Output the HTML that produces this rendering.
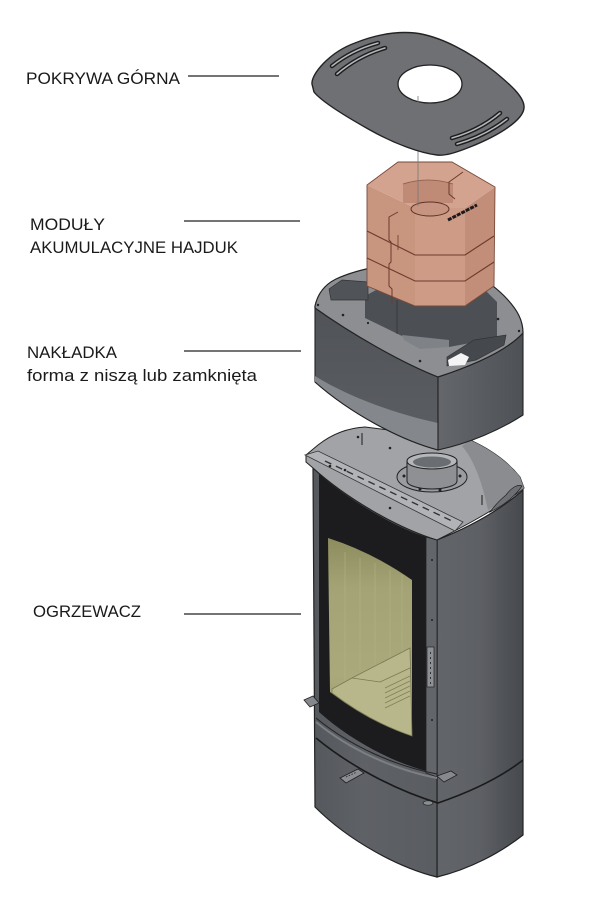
<!DOCTYPE html>
<html>
<head>
<meta charset="utf-8">
<style>
html,body{margin:0;padding:0;background:#fff;}
svg{display:block;}
text{font-family:"Liberation Sans",Arial,sans-serif;fill:#1a1a1a;}
</style>
</head>
<body>
<svg width="600" height="900" viewBox="0 0 600 900" xmlns="http://www.w3.org/2000/svg">
<defs>
  <linearGradient id="gR" x1="0" y1="0" x2="1" y2="0">
    <stop offset="0" stop-color="#62656a"/>
    <stop offset="0.5" stop-color="#5d6065"/>
    <stop offset="1" stop-color="#46494e"/>
  </linearGradient>
  <linearGradient id="gL" x1="0" y1="0" x2="1" y2="0">
    <stop offset="0" stop-color="#55585d"/>
    <stop offset="0.4" stop-color="#5e6166"/>
    <stop offset="1" stop-color="#5a5d62"/>
  </linearGradient>
  <linearGradient id="gG" x1="0" y1="0" x2="0" y2="1">
    <stop offset="0" stop-color="#8c8c5e"/>
    <stop offset="0.25" stop-color="#a3a375"/>
    <stop offset="0.7" stop-color="#a9a97b"/>
    <stop offset="1" stop-color="#9a9a6c"/>
  </linearGradient>
  <linearGradient id="gNR" x1="0" y1="0" x2="1" y2="0">
    <stop offset="0" stop-color="#64676c"/>
    <stop offset="1" stop-color="#4e5156"/>
  </linearGradient>
  <linearGradient id="gNL" x1="0" y1="0" x2="0" y2="1">
    <stop offset="0" stop-color="#505358"/>
    <stop offset="1" stop-color="#5c5f64"/>
  </linearGradient>
</defs>
<rect width="600" height="900" fill="#fff"/>

<!-- ===== LABELS ===== -->
<text x="26" y="84" font-size="17" textLength="154" lengthAdjust="spacingAndGlyphs">POKRYWA GÓRNA</text>
<line x1="188" y1="76" x2="279" y2="76" stroke="#222" stroke-width="1.3"/>

<text x="30" y="230" font-size="17" textLength="75" lengthAdjust="spacingAndGlyphs">MODUŁY</text>
<text x="30" y="253" font-size="17" textLength="208" lengthAdjust="spacingAndGlyphs">AKUMULACYJNE HAJDUK</text>
<line x1="184" y1="221" x2="300" y2="221" stroke="#222" stroke-width="1.3"/>

<text x="27" y="358" font-size="17" textLength="90" lengthAdjust="spacingAndGlyphs">NAKŁADKA</text>
<text x="27" y="381" font-size="17" textLength="230" lengthAdjust="spacingAndGlyphs">forma z niszą lub zamknięta</text>
<line x1="184" y1="351" x2="301" y2="351" stroke="#222" stroke-width="1.3"/>

<text x="33" y="617" font-size="17" textLength="108" lengthAdjust="spacingAndGlyphs">OGRZEWACZ</text>
<line x1="184" y1="614" x2="301" y2="614" stroke="#222" stroke-width="1.3"/>

<!-- ===== HEATER (OGRZEWACZ) ===== -->
<path d="M437,540 C470,527 500,510 523,490 L523,835 C500,853 470,869 437,877 Z" fill="url(#gR)" stroke="#222" stroke-width="1.2"/>
<path d="M313,468 C345,497 395,527 437,540 L437,877 C400,868 350,842 315,807 Z" fill="url(#gL)" stroke="#222" stroke-width="1.2"/>
<path d="M319,474 C350,501 395,527 426,537 L426,771 C392,762 350,740 319,712 Z" fill="#1c1c1e"/>
<path d="M426,537 L437,540 L437,777 L426,773 Z" fill="#62656a" stroke="#222" stroke-width="0.8"/>
<circle cx="432" cy="560" r="1" fill="#222"/>
<circle cx="432" cy="620" r="1" fill="#222"/>
<circle cx="432" cy="720" r="1" fill="#222"/>
<rect x="427" y="647" width="7" height="40" fill="#8d9095" stroke="#222" stroke-width="0.7"/>
<line x1="430.5" y1="652" x2="430.5" y2="684" stroke="#333" stroke-width="1" stroke-dasharray="2 3"/>
<path d="M328,538 Q372,552 412,580 L412,736 Q370,722 330,692 Z" fill="url(#gG)"/>
<g stroke="#b4b486" stroke-width="0.8" opacity="0.7">
  <line x1="345" y1="552" x2="345" y2="690"/>
  <line x1="360" y1="558" x2="360" y2="670"/>
  <line x1="375" y1="563" x2="375" y2="665"/>
  <line x1="390" y1="570" x2="390" y2="658"/>
  <line x1="402" y1="575" x2="402" y2="652"/>
</g>
<path d="M332,689 L352,678 L410,648 L412,736 Q370,722 332,693 Z" fill="#b8b78b" stroke="#7a7a52" stroke-width="0.8"/>
<path d="M352,678 L380,682 L410,668" fill="none" stroke="#7a7a52" stroke-width="0.8"/>
<g stroke="#7f7f56" stroke-width="0.7">
  <line x1="385" y1="688" x2="410" y2="676"/>
  <line x1="385" y1="693" x2="410" y2="681"/>
  <line x1="385" y1="698" x2="410" y2="686"/>
  <line x1="385" y1="703" x2="410" y2="691"/>
  <line x1="385" y1="708" x2="410" y2="696"/>
</g>
<path d="M316,722 C350,750 395,770 437,778" fill="none" stroke="#7c7f84" stroke-width="2"/>
<path d="M316,718 C350,746 395,766 437,774" fill="none" stroke="#222" stroke-width="1"/>
<path d="M316,738 C350,766 395,790 438,803 C470,792 500,778 523,760" fill="none" stroke="#1a1a1a" stroke-width="1.6"/>
<polygon points="304,700 313,696 319,703 310,707" fill="#85888d" stroke="#222" stroke-width="0.8"/>
<polygon points="437,776 451,771 457,775 444,782" fill="#85888d" stroke="#222" stroke-width="0.8"/>
<ellipse cx="428" cy="803" rx="5" ry="2.2" fill="#8a8d92" stroke="#222" stroke-width="0.7"/>
<polygon points="340,778 358,769 364,773 346,783" fill="#8a8d92" stroke="#222" stroke-width="0.9"/>
<line x1="346" y1="777" x2="357" y2="772" stroke="#222" stroke-width="0.8" stroke-dasharray="1.5 1.5"/>

<!-- top plate -->
<path d="M306,455 L318,445 C332,434 348,428 365,427 L470,440 C492,450 508,462 520,477 L524,488 C500,507 470,523 447,535 L437,540 C395,527 345,497 313,468 L306,462 Z" fill="#a1a3a6" stroke="#222" stroke-width="1"/>
<path d="M470,440 C492,450 508,462 520,477 L524,488 C512,497 500,503 488,510 C484,490 476,462 462,446 Z" fill="#8a8c90"/>
<path d="M506,495 C512,487 518,484 522,486 C516,495 505,505 490,512 C495,505 500,500 506,495 Z" fill="#6c6f74" stroke="#222" stroke-width="0.7"/>
<polygon points="305,455 318,451 463,522 455,531" fill="#b1b3b6" stroke="#333" stroke-width="0.8"/>
<line x1="325" y1="461" x2="452" y2="521" stroke="#333" stroke-width="1.4" stroke-dasharray="7 5"/>
<circle cx="330" cy="466" r="1.3" fill="#222"/>
<circle cx="345" cy="470" r="1.3" fill="#222"/>
<circle cx="390" cy="508" r="1.3" fill="#222"/>
<circle cx="358" cy="437" r="1.3" fill="#222"/>
<circle cx="390" cy="448" r="1.3" fill="#222"/>
<line x1="362" y1="433" x2="362" y2="445" stroke="#333" stroke-width="1.2"/>
<line x1="482" y1="495" x2="482" y2="505" stroke="#333" stroke-width="1.2"/>
<ellipse cx="432" cy="477" rx="35" ry="15" fill="#9a9ca0" stroke="#222" stroke-width="1"/>
<circle cx="404" cy="476" r="1.5" fill="#222"/>
<circle cx="460" cy="476" r="1.5" fill="#222"/>
<circle cx="440" cy="490" r="1.5" fill="#222"/>
<circle cx="420" cy="489" r="1.5" fill="#222"/>
<path d="M407,461 L407,481 A25,8 0 0 0 457,481 L457,461 Z" fill="#8e9094" stroke="#222" stroke-width="1"/>
<ellipse cx="432" cy="461" rx="25" ry="8" fill="#b4b6b9" stroke="#222" stroke-width="1"/>
<ellipse cx="432" cy="462" rx="19" ry="5.5" fill="#6a6d72"/>

<!-- ===== NAKŁADKA ===== -->
<path d="M315,307 C350,332 400,360 438,377 L438,450 C400,440 350,413 315,382 Z" fill="url(#gNL)" stroke="#222" stroke-width="1.1"/>
<path d="M315,376 C350,398 400,415 438,423 L438,450 C400,440 350,413 315,382 Z" fill="#84878b"/>
<path d="M315,382 C350,413 400,440 438,450" fill="none" stroke="#222" stroke-width="1.1"/>
<path d="M438,377 C490,360 512,345 523,333 L523,415 C500,430 470,443 438,450 Z" fill="url(#gNR)" stroke="#222" stroke-width="1.1"/>
<path d="M315,306 C318,292 326,284 336,279 C360,268 395,262 430,262 C462,264 490,280 508,300 C517,310 523,320 523,333 C512,345 490,360 438,377 C400,362 350,333 315,308 Z" fill="#8c8e92" stroke="#222" stroke-width="1.2"/>
<polygon points="365,296 378,289 486,291 497,302 497,338 449,347 404,337 365,318" fill="#4c4f54"/>
<polygon points="402,335 449,340 449,347 420,349 404,340" fill="#7f8286"/>
<line x1="397" y1="300" x2="397" y2="334" stroke="#333" stroke-width="0.7"/>
<polygon points="329,289 342,280 368,282 368,300 331,300" fill="#505358" stroke="#333" stroke-width="0.7"/>
<polygon points="447,357 474,340 506,335 504,345 476,360 447,366" fill="#45484d" stroke="#333" stroke-width="0.7"/>
<polygon points="448,360 461,353 469,357 465,365 449,366" fill="#f4f4f4"/>
<circle cx="318" cy="305" r="1.2" fill="#222"/>
<circle cx="343" cy="315" r="1.3" fill="#222"/>
<circle cx="420" cy="361" r="1.3" fill="#222"/>
<circle cx="498" cy="319" r="1.3" fill="#222"/>
<circle cx="519" cy="331" r="1.2" fill="#222"/>
<circle cx="368" cy="323" r="1.1" fill="#222"/>

<!-- ===== MODULES ===== -->
<polygon points="367,185 415,208 415,306 367,286" fill="#c8957f"/>
<polygon points="415,208 465,208 465,306 415,306" fill="#cd9b86"/>
<polygon points="465,208 495,187 494,286 465,306" fill="#c28e79"/>
<polygon points="367,185 398,162 452,162 495,187 465,208 415,208" fill="#d3a38f"/>
<polygon points="367,185 398,162 452,162 495,187 494,286 465,306 415,306 367,286" fill="none" stroke="#7a4a3a" stroke-width="0.9"/>
<path d="M403,203 L403,184 Q428,176 453,184 L453,203 Z" fill="#bf8b77"/>
<path d="M403,184 Q428,176 453,184" fill="none" stroke="#8a5a48" stroke-width="0.7"/>
<ellipse cx="430" cy="209" rx="19" ry="7" fill="#c79481" stroke="#5d3326" stroke-width="1"/>
<line x1="448" y1="220" x2="477" y2="205" stroke="#1e1a1a" stroke-width="3" stroke-dasharray="4 1"/>
<polyline points="367,231 415,255 465,255 494,236" fill="none" stroke="#6b3b2c" stroke-width="1.1"/>
<polyline points="367,258 415,281 465,281 494,262" fill="none" stroke="#6b3b2c" stroke-width="1.1"/>
<polyline points="398,212 389,217 389,240 391,242 391,262 389,264 389,286 392,289 392,304" fill="none" stroke="#6b3b2c" stroke-width="1"/>
<polyline points="463,172 449,182 449,194 455,199" fill="none" stroke="#6b3b2c" stroke-width="1"/>
<line x1="398" y1="235" x2="398" y2="250" stroke="#6b3b2c" stroke-width="0.8"/>

<line x1="418" y1="96" x2="418" y2="206" stroke="#777" stroke-width="0.8"/>

<!-- ===== LID (POKRYWA) ===== -->
<path d="M312,84 C311,74 330,52 355,43 C375,35 395,31 415,33 C440,36 470,52 495,72 C512,86 525,98 524,108 C523,120 500,135 470,147 C455,153 445,156 437,155 C420,153 395,144 370,130 C345,116 322,102 314,92 Z" fill="#6e7074" stroke="#222" stroke-width="1.4"/>
<ellipse cx="430" cy="84" rx="32" ry="19" fill="#fff" stroke="#222" stroke-width="1.3"/>
<line x1="418" y1="96" x2="418" y2="103" stroke="#777" stroke-width="0.8"/>
<g fill="none" stroke-linecap="round">
  <path d="M332,66 Q352,50 378,43" stroke="#1e1e1e" stroke-width="4.5"/>
  <path d="M332,66 Q352,50 378,43" stroke="#b5b7ba" stroke-width="1.5"/>
  <path d="M337,74 Q358,56 385,48" stroke="#1e1e1e" stroke-width="4.5"/>
  <path d="M337,74 Q358,56 385,48" stroke="#b5b7ba" stroke-width="1.5"/>
  <path d="M452,138 Q480,130 500,113" stroke="#1e1e1e" stroke-width="4.5"/>
  <path d="M452,138 Q480,130 500,113" stroke="#b5b7ba" stroke-width="1.5"/>
  <path d="M457,144 Q485,136 507,119" stroke="#1e1e1e" stroke-width="4.5"/>
  <path d="M457,144 Q485,136 507,119" stroke="#b5b7ba" stroke-width="1.5"/>
</g>
</svg>
</body>
</html>
